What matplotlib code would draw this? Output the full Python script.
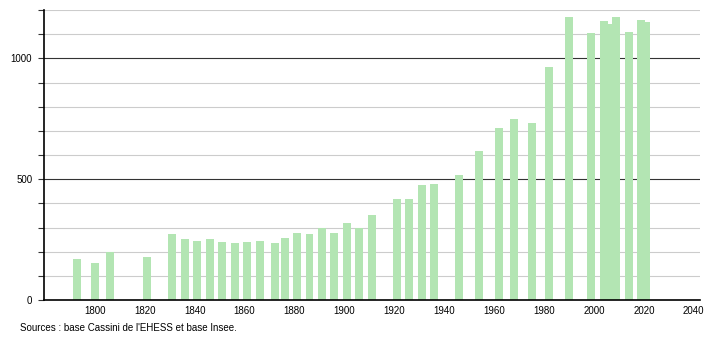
import numpy as np
import matplotlib.pyplot as plt

# census years and population
years = [1793, 1800, 1806, 1821, 1831, 1836, 1841, 1846, 1851, 1856,
         1861, 1866, 1872, 1876, 1881, 1886, 1891, 1896, 1901, 1906,
         1911, 1921, 1926, 1931, 1936, 1946, 1954, 1962, 1968, 1975,
         1982, 1990, 1999, 2004, 2007, 2009, 2014, 2019, 2021]
population = [169, 152, 198, 180, 272, 253, 246, 253, 241, 235,
              241, 246, 234, 256, 279, 275, 297, 279, 318, 297,
              350, 416, 420, 477, 482, 518, 618, 710, 747, 733,
              964, 1169, 1104, 1155, 1141, 1173, 1108, 1160, 1151]

x_ticks = [1800, 1820, 1840, 1860, 1880, 1900, 1920, 1940, 1960, 1980, 2000, 2020, 2040]
y_major = [0, 500, 1000]
source = "Sources : base Cassini de l'EHESS et base Insee."

plt.rcParams['font.family'] = ['Liberation Sans', 'DejaVu Sans']

fig = plt.figure(figsize=(7.1, 3.4), dpi=100)
ax = fig.add_axes([44 / 710, 40 / 340, 656 / 710, 290 / 340])

# grid: light every 100, dark every 500
for v in range(100, 1201, 100):
    if v % 500 == 0:
        ax.axhline(v, color='#333333', lw=0.8, zorder=1)
    else:
        ax.axhline(v, color='#cccccc', lw=0.8, zorder=1)

ax.bar(years, population, width=3.2, color='#b3e5b3', zorder=2)

ax.set_xlim(1779.6, 2042.5)
ax.set_ylim(0, 1200)

ax.set_xticks(x_ticks)
ax.set_xticklabels([str(t) for t in x_ticks], fontsize=7)
ax.tick_params(axis='x', length=0, pad=4)

ax.set_yticks(y_major)
ax.set_yticklabels([str(t) for t in y_major], fontsize=7)
ax.set_yticks(np.arange(0, 1201, 100), minor=True)
ax.tick_params(axis='y', which='both', length=4, width=0.8, color='#333333', pad=4.5)

for s in ['top', 'right']:
    ax.spines[s].set_visible(False)
ax.spines['left'].set_linewidth(1.2)
ax.spines['bottom'].set_linewidth(1.2)

fig.text(20 / 710, 1 - 328 / 340, source, fontsize=7, va='center', ha='left')

fig.savefig('out.png', dpi=100)
